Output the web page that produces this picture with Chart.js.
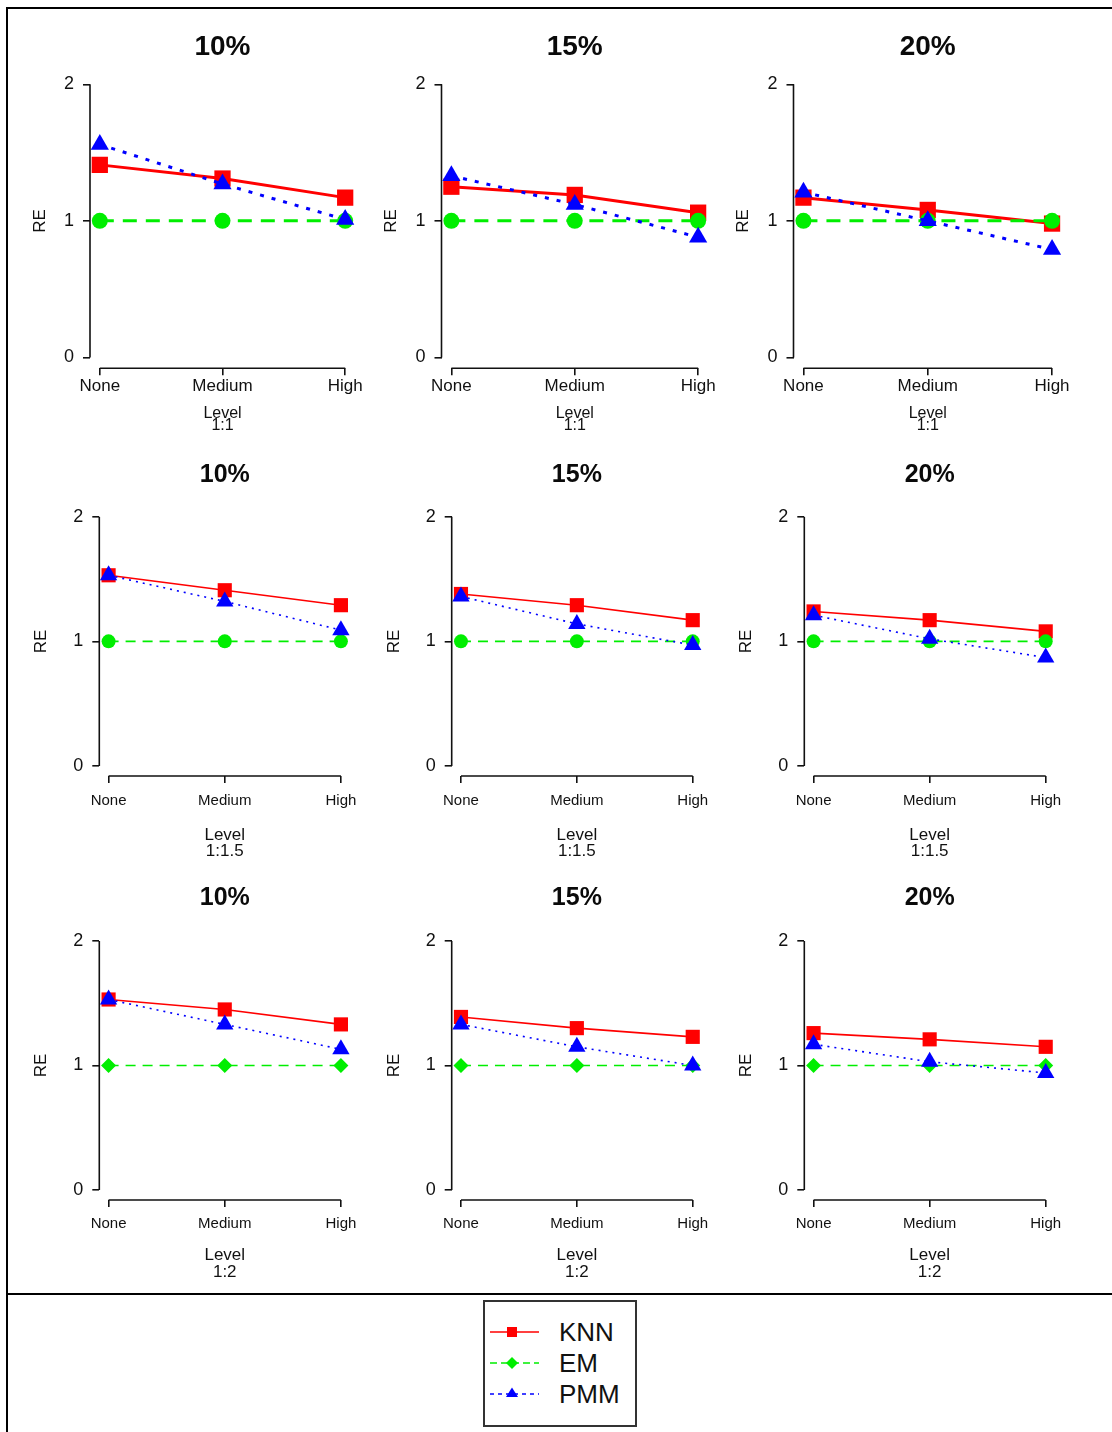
<!DOCTYPE html>
<html>
<head>
<meta charset="utf-8">
<script src="https://cdn.jsdelivr.net/npm/chart.js@4.4.0/dist/chart.umd.min.js"></script>
<style>
body { margin: 0; background: #fff; width: 1112px; height: 1432px; overflow: hidden; position: relative; font-family: "Liberation Sans", Arial, sans-serif; }
#frame { position: absolute; left: 6px; top: 7px; width: 1130px; height: 1450px; border-left: 2px solid #000; border-top: 2px solid #000; }
#sep { position: absolute; left: 6px; top: 1293px; width: 1106px; height: 2px; background: #000; }
canvas { position: absolute; }
#legend { position: absolute; left: 483px; top: 1300px; width: 154px; height: 127px; border: 2px solid #333; box-sizing: border-box; }
.lgs { position: absolute; }
.lgt { position: absolute; font-size: 26px; line-height: 26px; color: #111; }
</style>
</head>
<body>
<div id="frame"></div>
<div id="sep"></div>
<div id="legend"></div>
<script>
const levels = ['None', 'Medium', 'High'];
const rates = ['10%', '15%', '20%'];
const ratios = ['1:1', '1:1.5', '1:2'];
const yTicks = [0, 1, 2];
const methods = ['KNN', 'EM', 'PMM'];

// RE values: [ratio row][missing rate column][level]
const knnRE = [
  [[1.41, 1.31, 1.17], [1.25, 1.19, 1.06], [1.17, 1.08, 0.98]],
  [[1.53, 1.41, 1.29], [1.38, 1.29, 1.17], [1.24, 1.17, 1.08]],
  [[1.53, 1.45, 1.33], [1.39, 1.30, 1.23], [1.26, 1.21, 1.15]]
];
const emRE = [
  [[1.00, 1.00, 1.00], [1.00, 1.00, 1.00], [1.00, 1.00, 1.00]],
  [[1.00, 1.00, 1.00], [1.00, 1.00, 1.00], [1.00, 1.00, 1.00]],
  [[1.00, 1.00, 1.00], [1.00, 1.00, 1.00], [1.00, 1.00, 1.00]]
];
const pmmRE = [
  [[1.56, 1.27, 1.01], [1.33, 1.12, 0.88], [1.21, 1.00, 0.79]],
  [[1.53, 1.32, 1.09], [1.36, 1.14, 0.97], [1.21, 1.02, 0.87]],
  [[1.53, 1.33, 1.13], [1.33, 1.15, 1.00], [1.17, 1.03, 0.94]]
];

const FONT = '"Liberation Sans", Arial, sans-serif';
Chart.defaults.font.family = FONT;

const colors = ['#ff0000', '#00ee00', '#0000ff'];
const marks = ['rect', 'circle', 'triangle'];

// layout of each row of panels (page pixels)
const rows = [
  { titleY: 47, top: 73.4, bottom: 368.3, reGap: 50, lvlY: 414, lvlLH: 12, lvlSize: 16,
    titleSize: 28, xtSize: 17, xtPad: 1, lw: 3, dash: [14, 9], dot: [4, 8], rad: [11.5, 8, 10.5], emMark: 'circle',
    cols: [[90, 355], [441.5, 708], [793.5, 1062]] },
  { titleY: 475, top: 506.7, bottom: 776, reGap: 58, lvlY: 835, lvlLH: 16, lvlSize: 17,
    titleSize: 25, xtSize: 15, xtPad: 9, lw: 1.6, dash: [10, 7], dot: [2, 5], rad: [10, 7, 10], emMark: 'circle',
    cols: [[99.3, 350.2], [451.7, 702], [804.3, 1055]] },
  { titleY: 898, top: 931, bottom: 1200, reGap: 58, lvlY: 1255, lvlLH: 17, lvlSize: 17,
    titleSize: 25, xtSize: 15, xtPad: 8, lw: 1.6, dash: [10, 7], dot: [2, 5], rad: [10, 7.5, 10], emMark: 'rectRot',
    cols: [[99.3, 350.2], [451.7, 702], [804.3, 1055]] }
];

// R style axes: lines only between first and last tick
const rAxes = {
  id: 'rAxes',
  afterDraw(chart, args, opts) {
    const { ctx, chartArea: a, scales: { x, y } } = chart;
    ctx.save();
    ctx.strokeStyle = '#111';
    ctx.lineWidth = opts.width;
    ctx.beginPath();
    ctx.moveTo(a.left, y.getPixelForValue(yTicks[0]));
    ctx.lineTo(a.left, y.getPixelForValue(yTicks[yTicks.length - 1]));
    ctx.moveTo(x.getPixelForValue(0), a.bottom);
    ctx.lineTo(x.getPixelForValue(levels.length - 1), a.bottom);
    ctx.stroke();
    ctx.restore();
  }
};

function panel(r, c) {
  const g = rows[r];
  const left = g.cols[c][0], right = g.cols[c][1];
  const cw = right - left;
  const reLH = 17 * 1.2;
  const cx = Math.round(left - g.reGap - reLH / 2);
  const yw = left - cx;
  const tLH = g.titleSize * 1.2;
  const cy = Math.round(g.titleY - tLH / 2);
  const tPadB = g.top - cy - tLH;
  const W = Math.ceil(yw + cw + 26);
  const H = Math.round(g.lvlY + g.lvlLH + g.lvlLH / 2 + 2 - cy);
  const xh = H - (g.bottom - cy);
  const padR = W - yw - cw;

  const cv = document.createElement('canvas');
  cv.width = W; cv.height = H;
  cv.style.left = cx + 'px'; cv.style.top = cy + 'px';
  document.body.appendChild(cv);

  const sets = [knnRE, emRE, pmmRE].map((src, k) => ({
    label: methods[k],
    data: src[r][c].map((v, i) => ({ x: i, y: v })),
    borderColor: colors[k],
    backgroundColor: colors[k],
    borderWidth: g.lw,
    borderDash: k === 1 ? g.dash : k === 2 ? g.dot : [],
    borderCapStyle: 'butt',
    pointStyle: k === 1 ? g.emMark : marks[k],
    pointRadius: g.rad[k],
    pointHoverRadius: g.rad[k],
    pointBorderWidth: 0,
    tension: 0,
    clip: false,
    order: 2 - k
  }));

  new Chart(cv, {
    type: 'line',
    data: { datasets: sets },
    plugins: [rAxes],
    options: {
      responsive: false,
      animation: false,
      events: [],
      layout: { padding: { left: 0, top: 0, right: padR, bottom: 0 } },
      plugins: {
        legend: { display: false },
        tooltip: { enabled: false },
        title: {
          display: true, text: rates[c], fullSize: false, color: '#0a0a0a',
          font: { size: g.titleSize, weight: 'bold', lineHeight: 1.2 },
          padding: { top: 0, bottom: tPadB }
        },
        rAxes: { width: 1.6 }
      },
      scales: {
        x: {
          type: 'linear', min: -0.08, max: 2.08, bounds: 'data',
          afterBuildTicks: s => { s.ticks = levels.map((_, i) => ({ value: i })); },
          afterFit: s => { s.height = xh; s.paddingLeft = 0; s.paddingRight = 0; },
          grid: { drawOnChartArea: false, drawTicks: true, tickLength: 7, color: '#111', lineWidth: 1.6 },
          border: { display: false },
          ticks: {
            autoSkip: false, maxRotation: 0, minRotation: 0, padding: g.xtPad, color: '#111',
            font: { size: g.xtSize }, callback: (v, i) => levels[i]
          },
          title: {
            display: true, text: ['Level', ratios[r]], color: '#111',
            font: { size: g.lvlSize, lineHeight: g.lvlLH + 'px' },
            padding: { top: 0, bottom: 2 }
          }
        },
        y: {
          type: 'linear', min: -0.08, max: 2.08, bounds: 'data',
          afterBuildTicks: s => { s.ticks = yTicks.map(v => ({ value: v })); },
          afterFit: s => { s.width = yw; s.paddingTop = 0; s.paddingBottom = 0; },
          grid: { drawOnChartArea: false, drawTicks: true, tickLength: 7, color: '#111', lineWidth: 1.6 },
          border: { display: false },
          ticks: { padding: 9, color: '#111', font: { size: 18 }, callback: v => String(v) },
          title: {
            display: true, text: 'RE', color: '#111',
            font: { size: 17, lineHeight: 1.2 },
            padding: { top: 0, bottom: 0 }
          }
        }
      }
    }
  });
}

for (let r = 0; r < ratios.length; r++) {
  for (let c = 0; c < rates.length; c++) panel(r, c);
}

// legend
const lgY = [1332, 1363, 1394];
const lgDash = ['', '7 4', '4 4'];
const lgMark = [
  (cl) => `<rect x="19" y="7" width="10" height="10" fill="${cl}"/>`,
  (cl) => `<polygon points="24,6 30,12 24,18 18,12" fill="${cl}"/>`,
  (cl) => `<polygon points="24,5.5 30,15 18,15" fill="${cl}"/>`
];
methods.forEach((m, k) => {
  const svg = document.createElementNS('http://www.w3.org/2000/svg', 'svg');
  svg.setAttribute('class', 'lgs');
  svg.setAttribute('width', '56');
  svg.setAttribute('height', '24');
  svg.style.left = '488px';
  svg.style.top = (lgY[k] - 12) + 'px';
  svg.innerHTML = `<line x1="2" y1="12" x2="51" y2="12" stroke="${colors[k]}" stroke-width="1.5"` +
    (lgDash[k] ? ` stroke-dasharray="${lgDash[k]}"` : '') + `/>` + lgMark[k](colors[k]);
  document.body.appendChild(svg);
  const t = document.createElement('div');
  t.className = 'lgt';
  t.textContent = m;
  t.style.left = '559px';
  t.style.top = (lgY[k] - 13) + 'px';
  document.body.appendChild(t);
});
</script>
</body>
</html>
